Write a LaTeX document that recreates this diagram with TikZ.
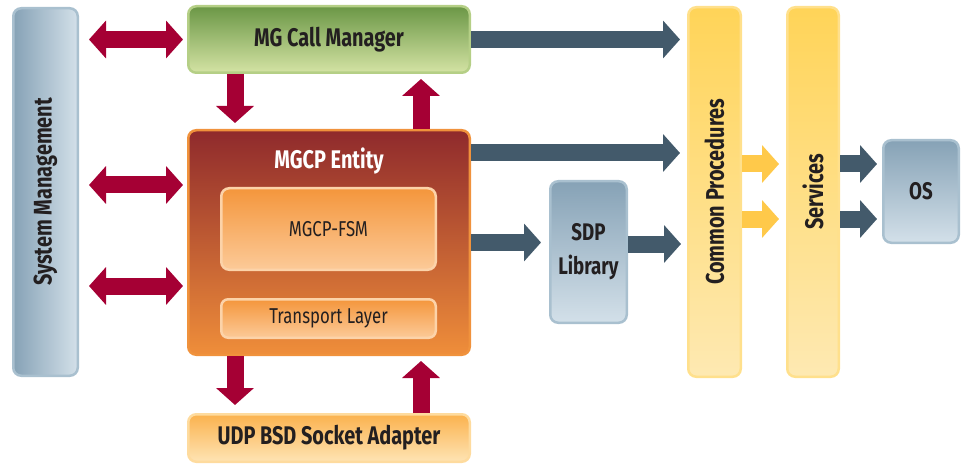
\documentclass[tikz,border=0pt]{standalone}
\usepackage{fontspec}
\setmainfont{Fira Sans}[FakeStretch=0.78]
\usetikzlibrary{arrows.meta}

\definecolor{ink}{HTML}{231F20}
\definecolor{crim}{HTML}{A50034}
\definecolor{slate}{HTML}{435A6B}
\definecolor{yel}{HTML}{FFC94A}
\definecolor{bluetop}{HTML}{86A2B6}
\definecolor{bluebot}{HTML}{D3E0E9}
\definecolor{blueline}{HTML}{A9C0CF}
\definecolor{greentop}{HTML}{6B9746}
\definecolor{greenbot}{HTML}{D4E3A4}
\definecolor{greenline}{HTML}{B5CF86}
\definecolor{redtop}{HTML}{8F2A2C}
\definecolor{redbot}{HTML}{EF8E3A}
\definecolor{redline}{HTML}{F0923C}
\definecolor{orgtop}{HTML}{F4963C}
\definecolor{orgbot}{HTML}{FCCA98}
\definecolor{orgline}{HTML}{FCD3A9}
\definecolor{udptop}{HTML}{FBB24E}
\definecolor{udpbot}{HTML}{FEE4B4}
\definecolor{udpline}{HTML}{FEDB9E}
\definecolor{yeltop}{HTML}{FFD458}
\definecolor{yelbot}{HTML}{FEE9B2}
\definecolor{yelline}{HTML}{FFE08C}

\tikzstyle{box} = [rounded corners=8pt, line width=2.5pt, inner sep=0pt]
\tikzstyle{bluebox} = [box, draw=blueline, top color=bluetop, bottom color=bluebot]
\tikzstyle{yelbox} = [box, draw=yelline, top color=yeltop, bottom color=yelbot]
\tikzstyle{btext} = [font=\bfseries\fontsize{25.5}{34}\selectfont, text=ink, align=center]
\tikzstyle{stext} = [font=\bfseries\fontsize{24}{34}\selectfont, text=ink, align=center]
\tikzstyle{ntext} = [font=\fontsize{21.5}{26}\selectfont, text=ink]
\tikzstyle{arr} = [line width=17pt, -{Triangle[width=37pt,length=17pt]}]
\tikzstyle{redarr} = [arr, draw=crim]
\tikzstyle{dblarr} = [redarr, {Triangle[width=37pt,length=17pt]}-{Triangle[width=37pt,length=17pt]}]
\tikzstyle{slatearr} = [arr, draw=slate]
\tikzstyle{yelarr} = [arr, draw=yel]

\begin{document}
\begin{tikzpicture}[x=1pt, y=-1pt]
\useasboundingbox (0,0) rectangle (963,465);

\node[box, draw=blueline, left color=bluetop, right color=bluebot,
    minimum width=64.5pt, minimum height=367.5pt] (sysm) at (45.5,192) {};
\node[btext, rotate=90] (sysmtext) at (sysm) {System Management};

\node[box, draw=greenline, top color=greentop, bottom color=greenbot,
    minimum width=281.5pt, minimum height=66.5pt] (mgcm) at (329,39.5) {};
\node[btext] (mgcmtext) at (mgcm) {MG Call Manager};

\node[box, draw=redline, top color=redtop, bottom color=redbot,
    minimum width=281.5pt, minimum height=224.5pt] (mgcp) at (329,242.5) {};
\node[btext, text=white] (mgcptitle) at (329,161) {MGCP Entity};

\node[box, draw=orgline, top color=orgtop, bottom color=orgbot,
    minimum width=214.5pt, minimum height=81.5pt] (fsm) at (328.5,229) {};
\node[ntext] (fsmtext) at (fsm) {MGCP-FSM};

\node[box, rounded corners=7pt, draw=orgline, top color=orgtop, bottom color=orgbot,
    minimum width=214.5pt, minimum height=38.5pt] (trans) at (328.5,318.5) {};
\node[ntext] (transtext) at (trans) {Transport Layer};

\node[box, draw=udpline, top color=udptop, bottom color=udpbot,
    minimum width=281.5pt, minimum height=47.5pt] (udp) at (329,438) {};
\node[btext] (udptext) at (udp) {UDP BSD Socket Adapter};

\node[bluebox, minimum width=76.5pt, minimum height=141.5pt] (sdp) at (588.5,252) {};
\node[stext] (sdptext) at (sdp) {SDP\\Library};

\node[yelbox, minimum width=52.5pt, minimum height=369.5pt] (cp) at (714.5,192) {};
\node[btext, rotate=90] (cptext) at (cp) {Common Procedures};

\node[yelbox, minimum width=51.5pt, minimum height=369.5pt] (serv) at (813,192) {};
\node[btext, rotate=90] (servtext) at (serv) {Services};

\node[bluebox, minimum width=75.5pt, minimum height=102.5pt] (os) at (921,191.5) {};
\node[stext] (ostext) at (os) {OS};

\draw[dblarr, shorten <=10pt, shorten >=4pt] (sysm.east |- mgcm.west) -- (mgcm.west);
\draw[dblarr, shorten <=10pt, shorten >=4pt] (sysm.east |- 0,185) -- ([yshift=57.5pt]mgcp.west);
\draw[dblarr, shorten <=10pt, shorten >=4pt] (sysm.east |- 0,286) -- ([yshift=-43.5pt]mgcp.west);

\draw[redarr, shorten >=6pt] ([xshift=-94pt]mgcm.south) -- ([xshift=-94pt]mgcp.north);
\draw[redarr, shorten >=5pt] ([xshift=92pt]mgcp.north) -- ([xshift=92pt]mgcm.south);
\draw[redarr, shorten >=8pt] ([xshift=-94pt]mgcp.south) -- ([xshift=-94pt]udp.north);
\draw[redarr, shorten >=5pt] ([xshift=92pt]udp.north) -- ([xshift=92pt]mgcp.south);

\draw[slatearr, shorten >=7pt] (mgcm.east) -- (mgcm.east -| cp.west);
\draw[slatearr, shorten >=7pt] ([yshift=89.5pt]mgcp.east) -- ([yshift=89.5pt]mgcp.east -| cp.west);
\draw[slatearr, shorten >=8pt] (mgcp.east) -- (mgcp.east -| sdp.west);
\draw[slatearr, shorten >=6pt] ([yshift=8pt]sdp.east) -- ([yshift=8pt]sdp.east -| cp.west);

\draw[yelarr, shorten >=7pt] ([yshift=28pt]cp.east) -- ([yshift=28pt]cp.east -| serv.west);
\draw[yelarr, shorten >=7pt] ([yshift=-27pt]cp.east) -- ([yshift=-27pt]cp.east -| serv.west);
\draw[slatearr, shorten >=5pt] ([yshift=28pt]serv.east) -- ([yshift=28pt]serv.east -| os.west);
\draw[slatearr, shorten >=5pt] ([yshift=-27pt]serv.east) -- ([yshift=-27pt]serv.east -| os.west);
\end{tikzpicture}
\end{document}
